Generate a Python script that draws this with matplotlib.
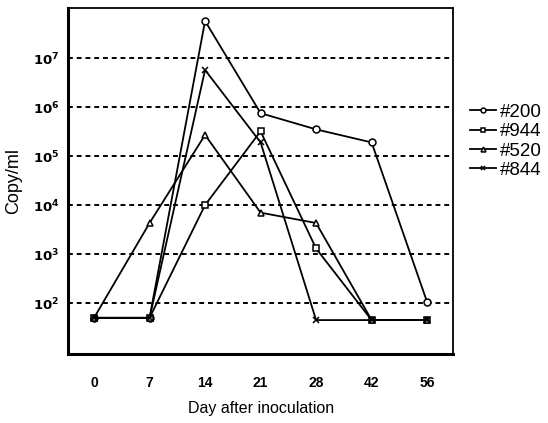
import numpy as np
import matplotlib
matplotlib.use("Agg")
import matplotlib.pyplot as plt

plt.rcParams['font.family'] = ['Liberation Sans', 'DejaVu Sans']

# --- data ---
days = ["0", "7", "14", "21", "28", "42", "56"]
s200 = [50, 50, 5.7e7, 7.5e5, 3.5e5, 1.9e5, 105]
s944 = [50, 50, 1.0e4, 3.2e5, 1.3e3, 45, 45]
s520 = [50, 4.3e3, 2.7e5, 7.0e3, 4.3e3, 45, 45]
s844 = [50, 50, 5.7e6, 1.9e5, 45, 45, 45]
labels = ["#200", "#944", "#520", "#844"]
markers = ["o", "s", "^", "x"]

fig = plt.figure(figsize=(5.48, 4.23), dpi=100)
ax = fig.add_axes([0.124, 0.163, 0.703, 0.818])

x = np.arange(len(days))
for vals, lab, m in zip([s200, s944, s520, s844], labels, markers):
    ax.plot(x, vals, color='black', linewidth=1.3, marker=m, markersize=5,
            markerfacecolor='white', markeredgecolor='black',
            markeredgewidth=1.1, label=lab)

ax.set_yscale('log')
ax.set_ylim(10 ** 0.96, 10 ** 8.02)
ax.set_xlim(-0.47, 6.47)

yt = [1e2, 1e3, 1e4, 1e5, 1e6, 1e7]
ax.set_yticks(yt)
ax.set_yticklabels([r"$\mathbf{10^{%d}}$" % int(np.log10(v)) for v in yt], fontsize=9.5)
ax.yaxis.set_minor_locator(matplotlib.ticker.NullLocator())
ax.set_xticks(x)
ax.set_xticklabels(days, fontsize=10, fontweight='bold')
ax.tick_params(length=0, pad=6)
ax.tick_params(axis='x', pad=16)

for v in yt:
    ax.axhline(v, color='black', linestyle=(0, (2.5, 2)), linewidth=1.4, zorder=0)

ax.spines['left'].set_linewidth(2.2)
ax.spines['bottom'].set_linewidth(2.2)
ax.spines['top'].set_linewidth(1.3)
ax.spines['right'].set_linewidth(1.3)

ax.set_xlabel("Day after inoculation", fontsize=11.5, labelpad=8)
ax.set_ylabel("Copy/ml", fontsize=13, labelpad=8)

ax.legend(loc='center left', bbox_to_anchor=(1.0, 0.615), frameon=False,
          fontsize=13.5, handlelength=1.4, handletextpad=0.2,
          labelspacing=0.12, markerscale=0.7)

fig.savefig("out.png", dpi=100)
